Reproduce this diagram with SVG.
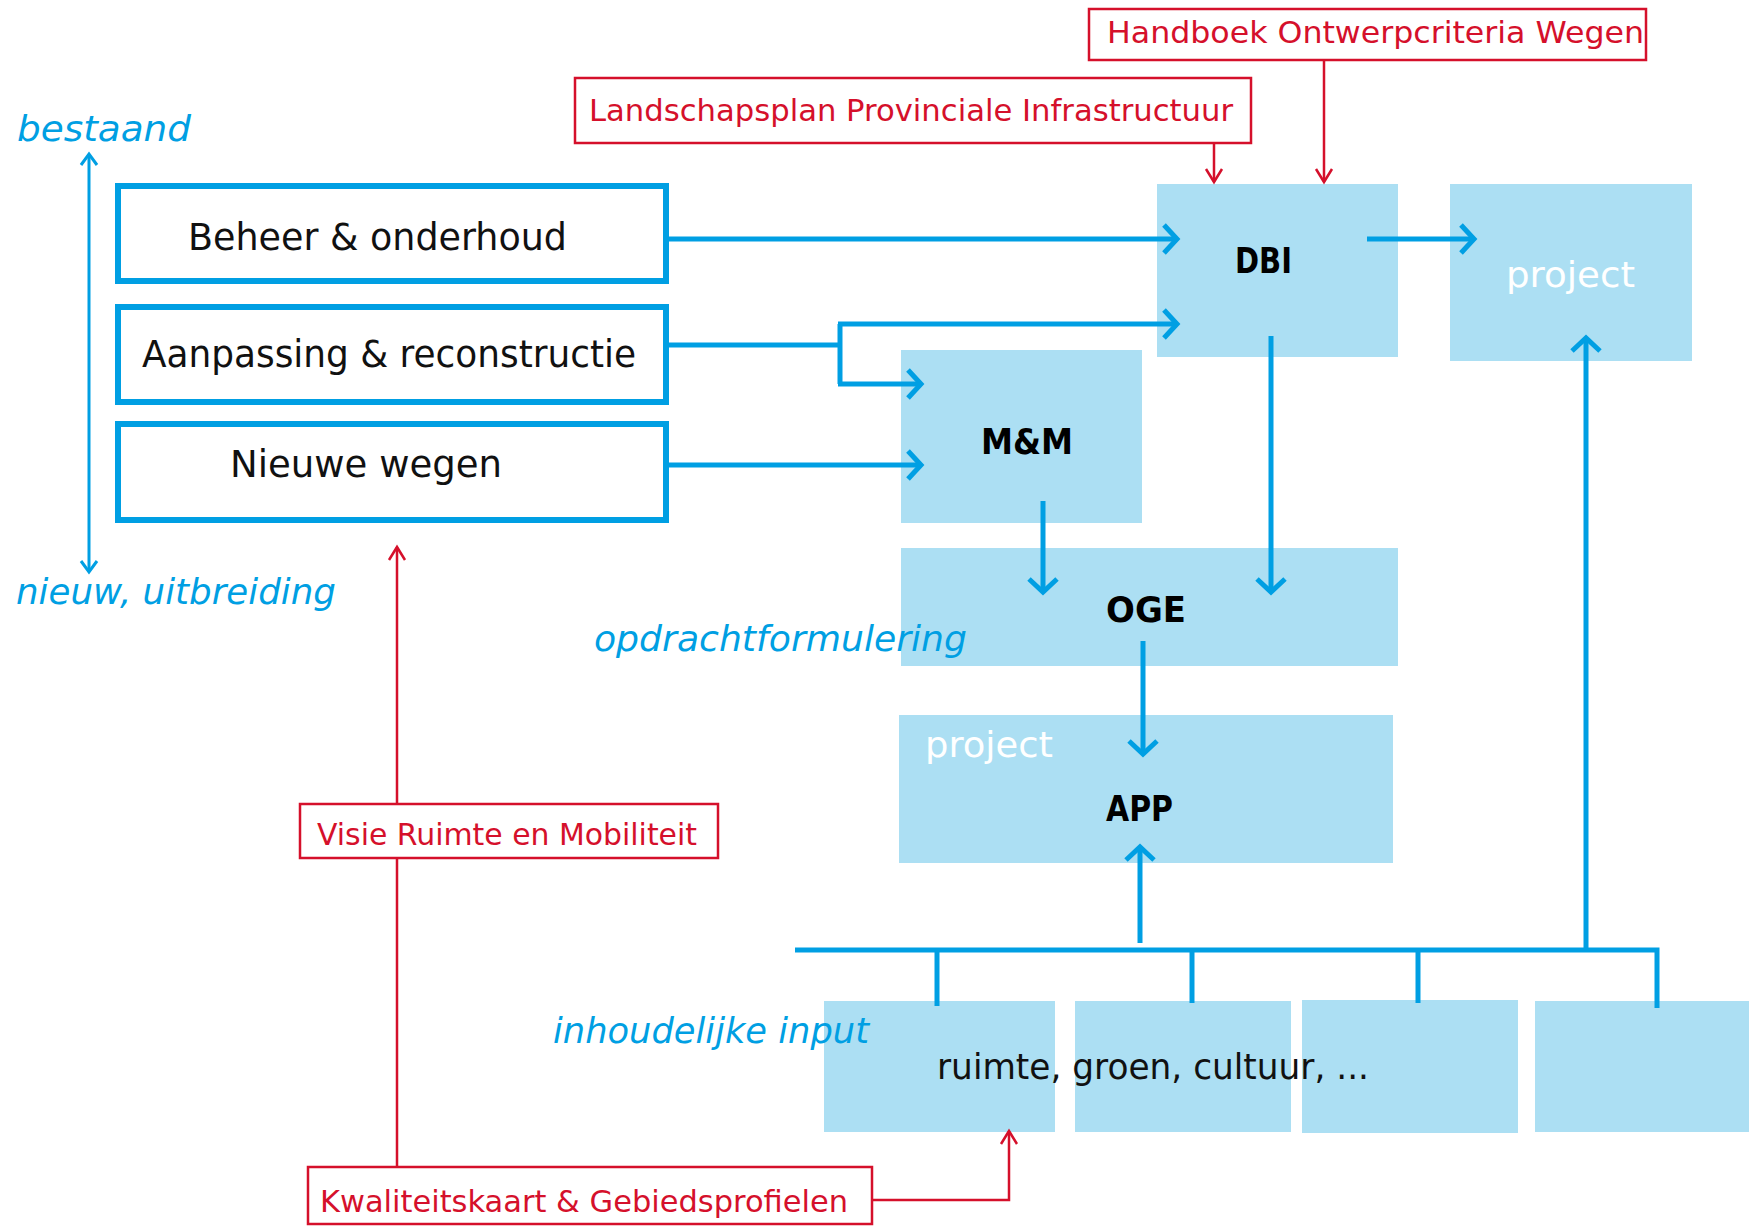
<svg xmlns="http://www.w3.org/2000/svg" width="1749" height="1229" viewBox="0 0 1749 1229">
<style>
.fill{fill:#ACDFF3;stroke:none}
.wbox{fill:#fff;stroke:#009FE3;stroke-width:6}
.rbox{fill:#fff;stroke:#D5102B;stroke-width:2.5}
.bl{fill:none;stroke:#009FE3;stroke-width:5}
.blt{fill:none;stroke:#009FE3;stroke-width:3}
.rl{fill:none;stroke:#D5102B;stroke-width:2.5}
.t{font-family:"DejaVu Sans","Liberation Sans",sans-serif;fill:#111}
.b{font-family:"DejaVu Sans","Liberation Sans",sans-serif;font-weight:bold;fill:#000}
.r{font-family:"DejaVu Sans","Liberation Sans",sans-serif;fill:#D5102B;font-size:30px}
.i{font-family:"DejaVu Sans","Liberation Sans",sans-serif;font-style:italic;fill:#009FE3;font-size:36px}
.w{font-family:"DejaVu Sans","Liberation Sans",sans-serif;fill:#fff;font-size:36px}
</style>
<defs>
<marker id="ab" markerUnits="userSpaceOnUse" viewBox="-20 -20 24 40" markerWidth="24" markerHeight="40" refX="0" refY="0" orient="auto" overflow="visible">
<path d="M-13,-14 L0,0 L-13,14" fill="none" stroke="#009FE3" stroke-width="5"/>
</marker>
<marker id="at" markerUnits="userSpaceOnUse" viewBox="-14 -12 16 24" markerWidth="16" markerHeight="24" refX="0" refY="0" orient="auto" overflow="visible">
<path d="M-11,-8 L0,0 L-11,8" fill="none" stroke="#009FE3" stroke-width="3"/>
</marker>
<marker id="ar" markerUnits="userSpaceOnUse" viewBox="-14 -12 16 24" markerWidth="16" markerHeight="24" refX="0" refY="0" orient="auto" overflow="visible">
<path d="M-13,-8 L0,0 L-13,8" fill="none" stroke="#D5102B" stroke-width="2.5"/>
</marker>
</defs>
<rect width="1749" height="1229" fill="#fff"/>

<g id="dbi"><rect class="fill" x="1157" y="184" width="241" height="173"/><text class="b" x="1235" y="273" font-size="35" textLength="57" lengthAdjust="spacingAndGlyphs">DBI</text></g>
<g id="project-top"><rect class="fill" x="1450" y="184" width="242" height="177"/><text class="w" x="1506" y="287" textLength="129" lengthAdjust="spacingAndGlyphs">project</text></g>
<g id="mm"><rect class="fill" x="901" y="350" width="241" height="173"/><text class="b" x="981" y="454" font-size="35" textLength="92" lengthAdjust="spacingAndGlyphs">M&amp;M</text></g>
<g id="oge"><rect class="fill" x="901" y="548" width="497" height="118"/><text class="b" x="1106" y="622" font-size="35" textLength="80" lengthAdjust="spacingAndGlyphs">OGE</text></g>
<g id="app"><rect class="fill" x="899" y="715" width="494" height="148"/><text class="w" x="925" y="757" textLength="128" lengthAdjust="spacingAndGlyphs">project</text><text class="b" x="1106" y="821" font-size="35" textLength="67" lengthAdjust="spacingAndGlyphs">APP</text></g>
<g id="input1"><rect class="fill" x="824" y="1001" width="231" height="131"/></g>
<g id="input2"><rect class="fill" x="1075" y="1001" width="216" height="131"/></g>
<g id="input3"><rect class="fill" x="1302" y="1000" width="216" height="133"/></g>
<g id="input4"><rect class="fill" x="1535" y="1001" width="214" height="131"/></g>

<g id="beheer"><rect class="wbox" x="118" y="186" width="548" height="95"/><text class="t" x="188" y="250" font-size="37" textLength="379" lengthAdjust="spacingAndGlyphs">Beheer &amp; onderhoud</text></g>
<g id="aanpassing"><rect class="wbox" x="118" y="307" width="548" height="95"/><text class="t" x="142" y="367" font-size="37" textLength="494" lengthAdjust="spacingAndGlyphs">Aanpassing &amp; reconstructie</text></g>
<g id="nieuwe"><rect class="wbox" x="118" y="424" width="548" height="96"/><text class="t" x="230" y="477" font-size="37" textLength="272" lengthAdjust="spacingAndGlyphs">Nieuwe wegen</text></g>

<g id="connectors">
<line class="bl" x1="669" y1="239" x2="1177" y2="239" marker-end="url(#ab)"/>
<line class="bl" x1="1367" y1="239" x2="1474" y2="239" marker-end="url(#ab)"/>
<polyline class="bl" points="669,345 840,345"/>
<polyline class="bl" points="840,324 840,384"/>
<line class="bl" x1="838" y1="324" x2="1177" y2="324" marker-end="url(#ab)"/>
<line class="bl" x1="838" y1="384" x2="921" y2="384" marker-end="url(#ab)"/>
<line class="bl" x1="669" y1="465" x2="921" y2="465" marker-end="url(#ab)"/>
<line class="bl" x1="1271" y1="336" x2="1271" y2="592" marker-end="url(#ab)"/>
<line class="bl" x1="1043" y1="501" x2="1043" y2="592" marker-end="url(#ab)"/>
<line class="bl" x1="1143" y1="641" x2="1143" y2="754" marker-end="url(#ab)"/>
<line class="bl" x1="1140" y1="943" x2="1140" y2="847" marker-end="url(#ab)"/>
<line class="bl" x1="1586" y1="950" x2="1586" y2="338" marker-end="url(#ab)"/>
<polyline class="bl" points="795,950 1657,950 1657,1008"/>
<line class="bl" x1="937" y1="950" x2="937" y2="1006"/>
<line class="bl" x1="1192" y1="950" x2="1192" y2="1003"/>
<line class="bl" x1="1418" y1="950" x2="1418" y2="1003"/>
<line class="blt" x1="89" y1="362" x2="89" y2="154" marker-end="url(#at)"/>
<line class="blt" x1="89" y1="362" x2="89" y2="572" marker-end="url(#at)"/>
<line class="rl" x1="1214" y1="143" x2="1214" y2="182" marker-end="url(#ar)"/>
<line class="rl" x1="1324" y1="60" x2="1324" y2="182" marker-end="url(#ar)"/>
<line class="rl" x1="397" y1="1167" x2="397" y2="547" marker-end="url(#ar)"/>
<polyline class="rl" points="873,1200 1009,1200 1009,1131" marker-end="url(#ar)"/>
</g>

<g id="handboek"><rect class="rbox" x="1089" y="9" width="557" height="51"/><text class="r" x="1107" y="43" textLength="537" lengthAdjust="spacingAndGlyphs">Handboek Ontwerpcriteria Wegen</text></g>
<g id="landschapsplan"><rect class="rbox" x="575" y="78" width="676" height="65"/><text class="r" x="589" y="121" textLength="644" lengthAdjust="spacingAndGlyphs">Landschapsplan Provinciale Infrastructuur</text></g>
<g id="visie"><rect class="rbox" x="300" y="804" width="418" height="54"/><text class="r" x="317" y="845" textLength="380" lengthAdjust="spacingAndGlyphs">Visie Ruimte en Mobiliteit</text></g>
<g id="kwaliteitskaart"><rect class="rbox" x="308" y="1167" width="564" height="57"/><text class="r" x="320" y="1212" textLength="528" lengthAdjust="spacingAndGlyphs">Kwaliteitskaart &amp; Gebiedsprofielen</text></g>

<g id="labels">
<text class="i" x="17" y="141" textLength="174" lengthAdjust="spacingAndGlyphs">bestaand</text>
<text class="i" x="16" y="604" textLength="320" lengthAdjust="spacingAndGlyphs">nieuw, uitbreiding</text>
<text class="i" x="594" y="651" textLength="373" lengthAdjust="spacingAndGlyphs">opdrachtformulering</text>
<text class="i" x="553" y="1043" textLength="316" lengthAdjust="spacingAndGlyphs">inhoudelijke input</text>
<text class="t" x="937" y="1079" font-size="36" textLength="432" lengthAdjust="spacingAndGlyphs">ruimte, groen, cultuur, ...</text>
</g>
</svg>
